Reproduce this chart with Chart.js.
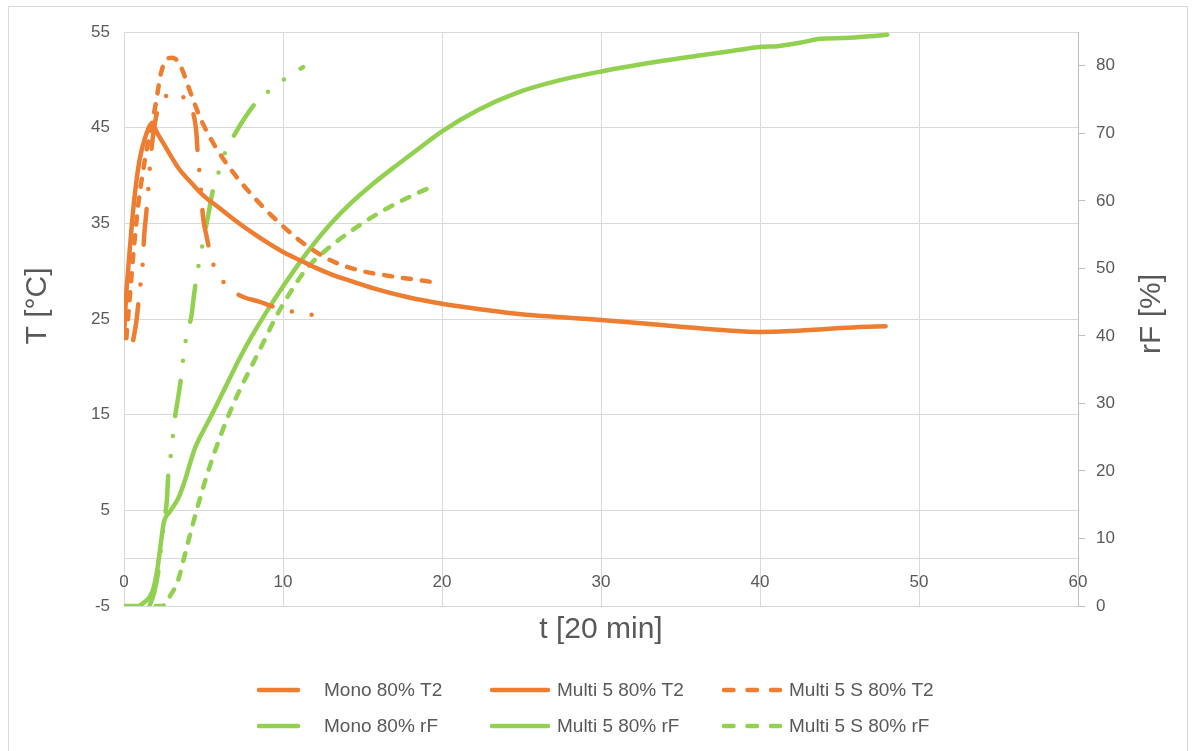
<!DOCTYPE html>
<html><head><meta charset="utf-8">
<script src="https://cdn.jsdelivr.net/npm/chart.js@4/dist/chart.umd.min.js"></script>
<style>
html,body{margin:0;padding:0;background:#fff;overflow:hidden}
#wrap{position:relative;width:1192px;height:751px}
#frame{position:absolute;left:8px;top:6px;width:1180px;height:760px;border:1px solid #d9d9d9;box-sizing:border-box;pointer-events:none}
canvas{position:absolute;left:0;top:0}
</style></head><body>
<div id="wrap"><canvas id="c" width="1192" height="751"></canvas><div id="frame"></div></div>
<script>
// ---- data (x in units of 20 min) ----
const xTicks = [0, 10, 20, 30, 40, 50, 60];
const seriesLabels = ['Mono 80% T2', 'Multi 5 80% T2', 'Multi 5 S 80% T2', 'Mono 80% rF', 'Multi 5 80% rF', 'Multi 5 S 80% rF'];
const axisTitles = { x: 't [20 min]', y: 'T [°C]', y1: 'rF [%]' };

const monoT2_x = [0.58, 0.8, 0.94, 1.2, 1.26, 1.38, 1.5, 1.7, 2.0, 2.4, 2.8, 3.2, 3.6, 4.0, 4.3, 4.55, 4.65, 4.78, 4.97, 5.2, 5.5, 6.04, 6.77, 7.5, 8.55, 9.37, 11.07, 12.1];
const monoT2_y = [22.8, 25.0, 27.3, 31.4, 33.5, 35.7, 38.0, 42.3, 46.0, 47.8, 48.5, 48.7, 48.4, 47.6, 46.8, 44.5, 41.9, 39.8, 35.7, 33.6, 31.3, 29.4, 28.0, 27.3, 26.8, 26.3, 25.6, 25.4];

const multiT2_x = [0, 0.1, 0.3, 0.5, 0.75, 1.0, 1.3, 1.75, 2.1, 2.5, 3.0, 3.5, 4.2, 5.0, 6.0, 7.0, 8.0, 9.0, 10.0, 11.0, 12.0, 13.0, 14.2, 15.7, 17.8, 20.0, 22.5, 25, 30, 35, 38, 40, 42, 44.6, 46, 47.9];
const multiT2_y = [23.0, 26.5, 31, 35, 39, 41.8, 43.8, 45.4, 44.4, 43.3, 41.9, 40.6, 39.3, 37.9, 36.6, 35.3, 34.1, 33.0, 32.0, 31.2, 30.4, 29.7, 29.0, 28.2, 27.3, 26.6, 26.0, 25.5, 24.9, 24.2, 23.8, 23.65, 23.75, 24.0, 24.15, 24.25];

const multiST2_x = [0.15, 0.35, 0.6, 0.9, 1.3, 1.7, 2.0, 2.3, 2.6, 3.0, 3.4, 3.7, 4.0, 4.4, 4.8, 5.3, 5.9, 6.6, 7.4, 8.3, 9.1, 10.0, 10.9, 11.8, 12.8, 13.6, 15.0, 16.7, 19.25];
const multiST2_y = [23, 27, 32, 37, 41.5, 45, 47.5, 50.5, 52, 52.3, 51.9, 50.9, 49.5, 47.7, 46.0, 44.3, 42.6, 40.9, 39.2, 37.5, 36.1, 34.7, 33.4, 32.3, 31.3, 30.7, 30.0, 29.5, 28.9];

const monoRF_x = [1.6, 1.9, 2.15, 2.35, 2.55, 2.7, 2.77, 2.95, 3.2, 3.4, 3.6, 3.75, 4.0, 4.23, 4.4, 4.6, 4.84, 5.3, 5.55, 5.93, 6.35, 7.0, 7.6, 8.35, 9.2, 10.2, 11.26];
const monoRF_y = [0, 2, 5, 9, 13, 15.7, 18.9, 22.5, 27.8, 30.8, 34, 37.2, 40.9, 42.8, 46, 49.2, 52.3, 57.9, 61.1, 64.1, 67.1, 70, 72.3, 74.7, 76.4, 78.2, 79.8];

const multiRF_x = [0, 0.9, 1.3, 1.6, 1.85, 2.1, 2.3, 2.5, 2.9, 3.4, 3.85, 4.2, 4.5, 5.0, 5.6, 6.5, 7.3, 8.0, 9.0, 10.0, 11.0, 12.0, 13.0, 14.2, 15.7, 17.0, 18.4, 20.0, 22.3, 24.7, 27.3, 30.1, 32.7, 35.2, 38.0, 40.1, 41.1, 42.5, 43.8, 45.2, 46.5, 48.0];
const multiRF_y = [0, 0, 0.6, 1.3, 2.6, 5.5, 9.0, 12.3, 14.0, 15.9, 18.7, 21.5, 23.6, 26.0, 28.7, 33.0, 36.8, 39.8, 43.7, 47.3, 50.7, 53.8, 56.6, 59.5, 62.6, 65.0, 67.5, 70.3, 73.5, 76.0, 77.8, 79.2, 80.3, 81.2, 82.1, 82.8, 82.9, 83.4, 84.0, 84.1, 84.3, 84.6];

const multiSRF_x = [2.0, 2.4, 2.9, 3.4, 3.85, 4.35, 4.8, 5.3, 5.85, 6.5, 7.2, 8.0, 8.8, 9.6, 10.45, 11.5, 12.8, 14.2, 16.1, 18.6, 19.2];
const multiSRF_y = [0, 0, 1.5, 3.8, 7.8, 12.3, 16.1, 20.0, 23.8, 27.8, 31.6, 35.4, 39.2, 43.0, 46.4, 50.0, 52.9, 55.4, 58.3, 61.3, 61.9];

// ---- build ----
const pts = (xs, ys) => xs.map((x, i) => ({x: x, y: ys[i]}));
const ORANGE = '#ED7D31', GREEN = '#92D050';
const FONT = "'Liberation Sans', Arial, sans-serif";
const TXT = '#595959';
const W = 4.5;
const DASH_MONO = [36, 20, 0, 20, 0, 20];
const DASH_S = [8, 11];
const LEG_MONO = [39, 25, 0, 25, 0, 25];
const LEG_S = [9.5, 14];

function mk(label, xs, ys, color, dash, axis, legendDash) {
  return {
    label: label, data: pts(xs, ys), borderColor: color, backgroundColor: color,
    borderWidth: W, borderDash: dash, borderCapStyle: 'round', borderJoinStyle: 'round',
    pointRadius: 0, pointHoverRadius: 0, fill: false,
    cubicInterpolationMode: 'monotone', yAxisID: axis, legendDash: legendDash
  };
}

const datasets = [
  mk(seriesLabels[0], monoT2_x, monoT2_y, ORANGE, DASH_MONO, 'y', LEG_MONO),
  mk(seriesLabels[1], multiT2_x, multiT2_y, ORANGE, [], 'y', []),
  mk(seriesLabels[2], multiST2_x, multiST2_y, ORANGE, DASH_S, 'y', LEG_S),
  mk(seriesLabels[3], monoRF_x, monoRF_y, GREEN, DASH_MONO, 'y1', LEG_MONO),
  mk(seriesLabels[4], multiRF_x, multiRF_y, GREEN, [], 'y1', []),
  mk(seriesLabels[5], multiSRF_x, multiSRF_y, GREEN, DASH_S, 'y1', LEG_S)
];

const xlLegend = {
  id: 'xlLegend',
  afterDraw(chart, args, opts) {
    const ctx = chart.ctx;
    ctx.save();
    chart.data.datasets.forEach((d, i) => {
      const col = i % 3, row = Math.floor(i / 3);
      const x0 = opts.colX[col], y = opts.rowY[row];
      ctx.beginPath();
      ctx.setLineDash(d.legendDash || []);
      ctx.lineCap = 'round';
      ctx.lineWidth = d.borderWidth;
      ctx.strokeStyle = d.borderColor;
      ctx.moveTo(x0 + 2, y);
      ctx.lineTo(x0 + opts.lineLen - 2, y);
      ctx.stroke();
      ctx.setLineDash([]);
      ctx.fillStyle = TXT;
      ctx.font = opts.fontSize + 'px ' + FONT;
      ctx.textBaseline = 'middle';
      ctx.textAlign = 'left';
      ctx.fillText(d.label, x0 + opts.lineLen + opts.gap, y + 1);
    });
    ctx.restore();
  }
};

// vertical axis titles, both reading bottom-to-top as in the reference
const vTitles = {
  id: 'vTitles',
  afterDraw(chart, args, opts) {
    const ctx = chart.ctx;
    opts.items.forEach(it => {
      const s = chart.scales[it.axis];
      ctx.save();
      ctx.translate(it.x, (s.top + s.bottom) / 2 + it.dy);
      ctx.rotate(-Math.PI / 2);
      ctx.fillStyle = TXT;
      ctx.font = opts.fontSize + 'px ' + FONT;
      ctx.textAlign = 'center';
      ctx.textBaseline = 'middle';
      ctx.fillText(axisTitles[it.axis], 0, 0);
      ctx.restore();
    });
  }
};

new Chart(document.getElementById('c'), {
  type: 'line',
  data: { datasets: datasets },
  options: {
    responsive: false,
    devicePixelRatio: 1,
    animation: false,
    layout: { padding: { top: 32, left: 0, right: 0, bottom: 0 } },
    plugins: {
      legend: { display: false },
      tooltip: { enabled: false },
      xlLegend: { colX: [257, 490, 722], rowY: [690, 726], lineLen: 60, gap: 7, fontSize: 19 },
      vTitles: { fontSize: 30, items: [ { axis: 'y', x: 38, dy: -13 }, { axis: 'y1', x: 1152, dy: -5 } ] }
    },
    scales: {
      x: {
        type: 'linear', min: 0, max: 60,
        position: { y: 0 },
        afterBuildTicks: s => { s.ticks = xTicks.map(v => ({value: v})); },
        ticks: { color: TXT, font: { family: FONT, size: 17 }, padding: 14, maxRotation: 0 },
        grid: { color: '#d9d9d9', drawTicks: false, lineWidth: 1 },
        border: { display: true, color: '#d9d9d9', width: 1 },
        title: { display: false }
      },
      xt: {
        type: 'linear', min: 0, max: 60, position: 'bottom',
        afterFit: s => { s.height = 145; },
        ticks: { display: false },
        grid: { display: false, drawTicks: false },
        border: { display: false },
        title: { display: true, text: axisTitles.x, color: TXT, font: { family: FONT, size: 30 }, padding: { top: 0, bottom: 103 } }
      },
      y: {
        type: 'linear', position: 'left', min: -5, max: 55,
        afterFit: s => { s.width = 124; },
        ticks: { stepSize: 10, color: TXT, font: { family: FONT, size: 17 }, padding: 14 },
        grid: { color: '#d9d9d9', drawTicks: false, lineWidth: 1 },
        border: { display: false },
        title: { display: false }
      },
      y1: {
        type: 'linear', position: 'right', min: 0, max: 85,
        afterFit: s => { s.width = 114; },
        afterBuildTicks: s => { s.ticks = s.ticks.filter(t => t.value <= 80 && t.value % 10 === 0); },
        ticks: { stepSize: 10, color: TXT, font: { family: FONT, size: 17 }, padding: 11 },
        grid: { drawOnChartArea: false, drawTicks: true, tickLength: 7, color: '#bfbfbf' },
        border: { display: true, color: '#bfbfbf', width: 1 },
        title: { display: false }
      }
    }
  },
  plugins: [xlLegend, vTitles]
});
</script>
</body></html>
